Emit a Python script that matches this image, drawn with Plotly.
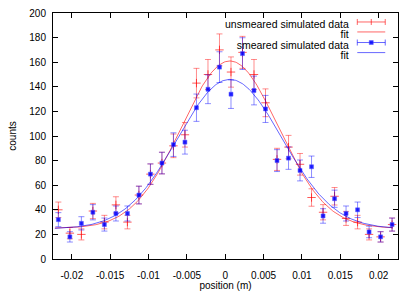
import numpy as np
import plotly.graph_objects as go

# ---- data ----
positions = [-0.02175, -0.02025, -0.01875, -0.01725, -0.01575, -0.01425, -0.01275,
             -0.01125, -0.00975, -0.00825, -0.00675, -0.00525, -0.00375, -0.00225,
             -0.00075, 0.00075, 0.00225, 0.00375, 0.00525, 0.00675, 0.00825,
             0.00975, 0.01125, 0.01275, 0.01425, 0.01575, 0.01725, 0.01875,
             0.02025, 0.02175]
unsmeared = [40, 21, 20, 39, 30, 44, 30, 52, 69, 78, 92, 101, 143, 150, 170,
             152, 168, 150, 127, 81, 91, 77, 50, 38, 51, 33, 30, 20, 18, 28]
unsmeared_err = [6.3, 4.6, 4.5, 6.2, 5.5, 6.6, 5.5, 7.2, 8.3, 8.8, 9.6, 10.0, 12.0, 12.2, 13.0,
                 12.3, 13.0, 12.2, 11.3, 9.0, 9.5, 8.8, 7.1, 6.2, 7.1, 5.7, 5.5, 4.5, 4.2, 5.3]
smeared = [32, 18, 29, 38, 28, 37, 37, 52, 69, 78, 93, 95, 123, 138, 156,
           134, 167, 137, 122, 80, 82, 72, 75, 35, 49, 37, 40, 22, 18, 28]
smeared_err = [5.7, 4.2, 5.4, 6.2, 5.3, 6.1, 6.1, 7.2, 8.3, 8.8, 9.6, 9.7, 11.1, 11.7, 12.5,
               11.6, 12.9, 11.7, 11.0, 8.9, 9.1, 8.5, 8.7, 5.9, 7.0, 6.1, 6.3, 4.7, 4.2, 5.3]

# Gaussian + constant fit parameters (offset, amplitude, mean, sigma)
fit_unsmeared = [25.0, 136.0, 0.0006, 0.0063]
fit_smeared = [24.5, 121.5, 0.0006, 0.0068]
fit_range = [-0.0222, 0.0218]

x_ticks = [-0.02, -0.015, -0.01, -0.005, 0, 0.005, 0.01, 0.015, 0.02]
x_ticklabels = ["-0.02", "-0.015", "-0.01", "-0.005", "0", "0.005", "0.01", "0.015", "0.02"]
y_ticks = [0, 20, 40, 60, 80, 100, 120, 140, 160, 180, 200]

legend_labels = ["unsmeared simulated data", "fit", "smeared simulated data", "fit"]


def gauss(x, p):
    a, b, c, s = p
    return a + b * np.exp(-(x - c) ** 2 / (2 * s ** 2))


xf = np.linspace(fit_range[0], fit_range[1], 300)

RED_ERR = "rgba(255,0,0,0.45)"
BLUE_ERR = "rgba(0,0,255,0.45)"
RED_LINE = "rgba(255,0,0,0.6)"
BLUE_LINE = "rgba(0,0,255,0.6)"
FONT = "Liberation Sans, Arial, sans-serif"

fig = go.Figure()
fig.add_trace(go.Scatter(
    x=positions, y=unsmeared, mode="markers", name=legend_labels[0],
    marker=dict(symbol="cross-thin", size=6, line=dict(color="rgba(255,0,0,0.65)", width=1)),
    error_y=dict(type="data", array=unsmeared_err, color=RED_ERR, thickness=1, width=3),
    showlegend=False))
fig.add_trace(go.Scatter(
    x=xf, y=gauss(xf, fit_unsmeared), mode="lines", name=legend_labels[1],
    line=dict(color=RED_LINE, width=1), showlegend=False))
fig.add_trace(go.Scatter(
    x=positions, y=smeared, mode="markers", name=legend_labels[2],
    marker=dict(symbol="square", size=4, color="rgba(0,0,255,0.85)",
                line=dict(color="rgba(90,90,255,0.5)", width=1)),
    error_y=dict(type="data", array=smeared_err, color=BLUE_ERR, thickness=1, width=3),
    showlegend=False))
fig.add_trace(go.Scatter(
    x=xf, y=gauss(xf, fit_smeared), mode="lines", name=legend_labels[3],
    line=dict(color=BLUE_LINE, width=1), showlegend=False))

# ---- gnuplot-style key (text right-aligned, samples on the right) ----
key_text_x = 0.862
key_x0, key_x1 = 0.882, 0.963
key_rows = [0.9635, 0.923, 0.880, 0.839]
key_colors = [RED_LINE, RED_LINE, BLUE_LINE, BLUE_LINE]
shapes = []
# one multi-line text block; line pitch set by the outer font size, glyphs by inner spans
key_text = "<br>".join('<span style="font-size:10.5px">%s</span>' % lab for lab in legend_labels)
annotations = [dict(text=key_text, xref="paper", yref="paper", x=key_text_x,
                    y=sum(key_rows) / len(key_rows) - 0.008, xanchor="right", yanchor="middle",
                    align="right", showarrow=False, borderpad=0,
                    font=dict(family=FONT, size=7.9, color="black"))]
for i, (yy, col) in enumerate(zip(key_rows, key_colors)):
    shapes.append(dict(type="line", xref="paper", yref="paper", x0=key_x0, x1=key_x1,
                       y0=yy, y1=yy, line=dict(color=col, width=1)))
    if i in (0, 2):
        for xa in (key_x0, key_x1):
            shapes.append(dict(type="line", xref="paper", yref="paper", xsizemode="pixel",
                               ysizemode="pixel", xanchor=xa, yanchor=yy,
                               x0=0, x1=0, y0=-3, y1=3, line=dict(color=col, width=1)))
        xm = (key_x0 + key_x1) / 2
        if i == 0:
            shapes.append(dict(type="line", xref="paper", yref="paper", xsizemode="pixel",
                               ysizemode="pixel", xanchor=xm, yanchor=yy,
                               x0=0, x1=0, y0=-3, y1=3, line=dict(color="rgba(255,0,0,0.65)", width=1)))
        else:
            shapes.append(dict(type="rect", xref="paper", yref="paper", xsizemode="pixel",
                               ysizemode="pixel", xanchor=xm, yanchor=yy,
                               x0=-2, x1=2, y0=-2, y1=2,
                               fillcolor="rgba(0,0,255,0.85)", line=dict(color="rgba(90,90,255,0.5)", width=1)))

axis_common = dict(showgrid=False, zeroline=False, showline=True, linecolor="black",
                   linewidth=1, mirror="ticks", ticks="inside", ticklen=5,
                   tickcolor="black", tickwidth=1, automargin=False,
                   tickfont=dict(family=FONT, size=10, color="black"))

fig.update_layout(
    width=415, height=291,
    margin=dict(l=53, r=17, t=13, b=32),
    paper_bgcolor="white", plot_bgcolor="white",
    font=dict(family=FONT, size=10, color="black"),
    xaxis=dict(range=[-0.02245, 0.02252], tickvals=x_ticks, ticktext=x_ticklabels,
               ticklabelstandoff=7,
               title=dict(text="position (m)", font=dict(family=FONT, size=10), standoff=5),
               **axis_common),
    yaxis=dict(range=[0, 200], tickvals=y_ticks, ticklabelstandoff=4,
               title=dict(text="counts", font=dict(family=FONT, size=10), standoff=10),
               **axis_common),
    shapes=shapes, annotations=annotations,
)

fig.write_html("out.html", config={"displayModeBar": False},
               post_script="document.body.style.margin='0';document.body.style.overflow='hidden';")
